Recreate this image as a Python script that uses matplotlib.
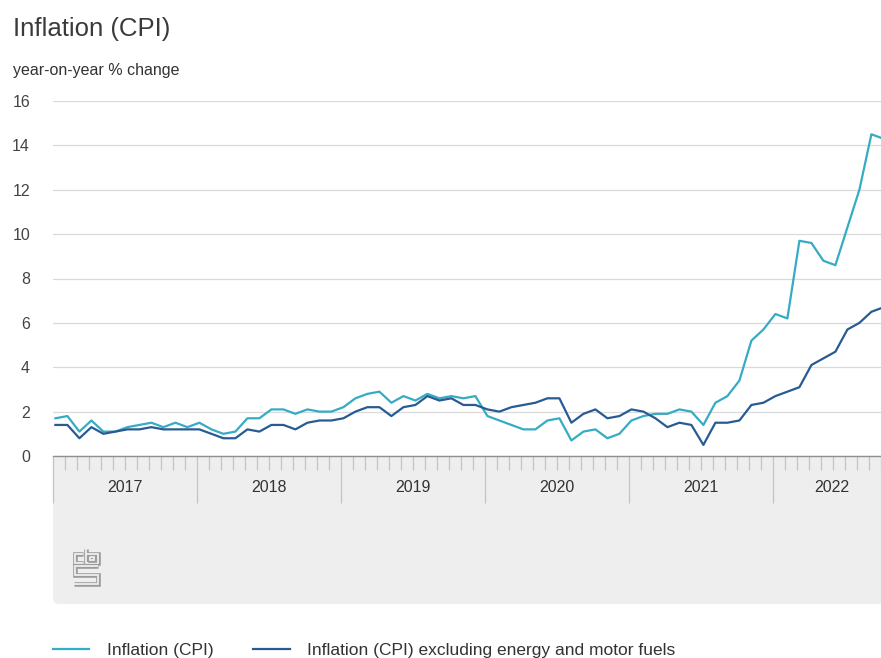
import numpy as np
import matplotlib
matplotlib.use("Agg")
import matplotlib.pyplot as plt
from matplotlib.patches import FancyBboxPatch

plt.rcParams['font.family'] = ['Liberation Sans', 'DejaVu Sans']

# monthly values, Jan 2017 .. Oct 2022
cpi = [1.7, 1.8, 1.1, 1.6, 1.1, 1.1, 1.3, 1.4, 1.5, 1.3, 1.5, 1.3,
       1.5, 1.2, 1.0, 1.1, 1.7, 1.7, 2.1, 2.1, 1.9, 2.1, 2.0, 2.0,
       2.2, 2.6, 2.8, 2.9, 2.4, 2.7, 2.5, 2.8, 2.6, 2.7, 2.6, 2.7,
       1.8, 1.6, 1.4, 1.2, 1.2, 1.6, 1.7, 0.7, 1.1, 1.2, 0.8, 1.0,
       1.6, 1.8, 1.9, 1.9, 2.1, 2.0, 1.4, 2.4, 2.7, 3.4, 5.2, 5.7,
       6.4, 6.2, 9.7, 9.6, 8.8, 8.6, 10.3, 12.0, 14.5, 14.3]
core = [1.4, 1.4, 0.8, 1.3, 1.0, 1.1, 1.2, 1.2, 1.3, 1.2, 1.2, 1.2,
        1.2, 1.0, 0.8, 0.8, 1.2, 1.1, 1.4, 1.4, 1.2, 1.5, 1.6, 1.6,
        1.7, 2.0, 2.2, 2.2, 1.8, 2.2, 2.3, 2.7, 2.5, 2.6, 2.3, 2.3,
        2.1, 2.0, 2.2, 2.3, 2.4, 2.6, 2.6, 1.5, 1.9, 2.1, 1.7, 1.8,
        2.1, 2.0, 1.7, 1.3, 1.5, 1.4, 0.5, 1.5, 1.5, 1.6, 2.3, 2.4,
        2.7, 2.9, 3.1, 4.1, 4.4, 4.7, 5.7, 6.0, 6.5, 6.7]
years = [2017, 2018, 2019, 2020, 2021, 2022]
yticks = [0, 2, 4, 6, 8, 10, 12, 14, 16]
labels = ['Inflation (CPI)', 'Inflation (CPI) excluding energy and motor fuels']

c_light = '#36abc4'
c_dark = '#285b93'
panel = '#eeeeee'
txt = '#333333'

W, H = 881, 658
fig = plt.figure(figsize=(W / 100, H / 100), dpi=100)

# background layer in pixel coordinates (panel + logo)
bg = fig.add_axes([0, 0, 1, 1], zorder=0)
bg.set_xlim(0, W)
bg.set_ylim(H, 0)
bg.axis('off')
bg.add_patch(FancyBboxPatch((53, 456), 860, 148, boxstyle='round,pad=0,rounding_size=6',
                            fc=panel, ec='none'))

# cbs logo, drawn as outlined strokes
lx, ly = 73, 548
logo = [
    [(10, 5.5), (1.5, 5.5), (1.5, 14.5), (10, 14.5)],
    [(12.5, 0.5), (12.5, 14.5), (24.5, 14.5), (24.5, 5.5), (12.5, 5.5)],
    [(16.5, 8.5), (21, 8.5), (21, 11.5), (16.5, 11.5), (16.5, 8.5)],
    [(24.5, 18), (1.5, 18), (1.5, 26.5), (24.5, 26.5), (24.5, 35.5), (1, 35.5)],
]
for seg in logo:
    xs = [lx + p[0] for p in seg]
    ys = [ly + p[1] for p in seg]
    bg.plot(xs, ys, color='#9c9c9c', lw=3.3, solid_joinstyle='miter', solid_capstyle='butt')
    bg.plot(xs, ys, color=panel, lw=1.3, solid_joinstyle='miter', solid_capstyle='butt')

# main chart
x0 = 53
ax = fig.add_axes([x0 / W, (H - 456) / H, (W - x0) / W, 355 / H], zorder=1)
ax.patch.set_alpha(0)

t = np.arange(len(cpi)) + 0.2
ax.plot(t, cpi, color=c_light, lw=1.6, label=labels[0], solid_joinstyle='round')
ax.plot(t, core, color=c_dark, lw=1.6, label=labels[1], solid_joinstyle='round')

ax.set_xlim(0, (W - x0) / 12.08)
ax.set_ylim(0, 16)
ax.set_yticks(yticks)
ax.grid(axis='y', color='#dadada', lw=0.9)
ax.set_axisbelow(True)
for s in ['top', 'right', 'left']:
    ax.spines[s].set_visible(False)
ax.spines['bottom'].set_color('#8f8f8f')
ax.spines['bottom'].set_linewidth(1.0)
ax.spines['bottom'].set_zorder(3)

ax.tick_params(axis='y', length=0, pad=16.5, labelsize=11.5, labelcolor='#444444')

year_starts = [12 * i for i in range(len(years))]
months = [m for m in range(1, 70) if m % 12]
ax.set_xticks(year_starts)
ax.set_xticks(months, minor=True)
ax.tick_params(axis='x', which='major', length=34, width=0.9, color='#c4c4c4', labelbottom=False)
ax.tick_params(axis='x', which='minor', length=10, width=0.9, color='#c4c4c4')

data_end = len(cpi) - 0.2
for i, yr in enumerate(years):
    mid = (year_starts[i] + min(year_starts[i] + 12, data_end)) / 2
    ax.annotate(str(yr), xy=(mid, 0), xycoords=('data', 'axes fraction'),
                xytext=(0, -22.5), textcoords='offset points',
                ha='center', va='center', fontsize=11.5, color=txt)

fig.text(13 / W, 1 - 36 / H, 'Inflation (CPI)', fontsize=18.5, color='#3a3a3a', va='baseline')
fig.text(13 / W, 1 - 75 / H, 'year-on-year % change', fontsize=11.5, color=txt, va='baseline')

fig.legend(loc='center left', bbox_to_anchor=(53 / W, 1 - 650 / H), ncol=2, frameon=False,
           fontsize=12.5, handlelength=2.1, handletextpad=1.0, columnspacing=2.3,
           borderpad=0, borderaxespad=0, labelcolor=txt)

fig.savefig('out.png', dpi=100)
